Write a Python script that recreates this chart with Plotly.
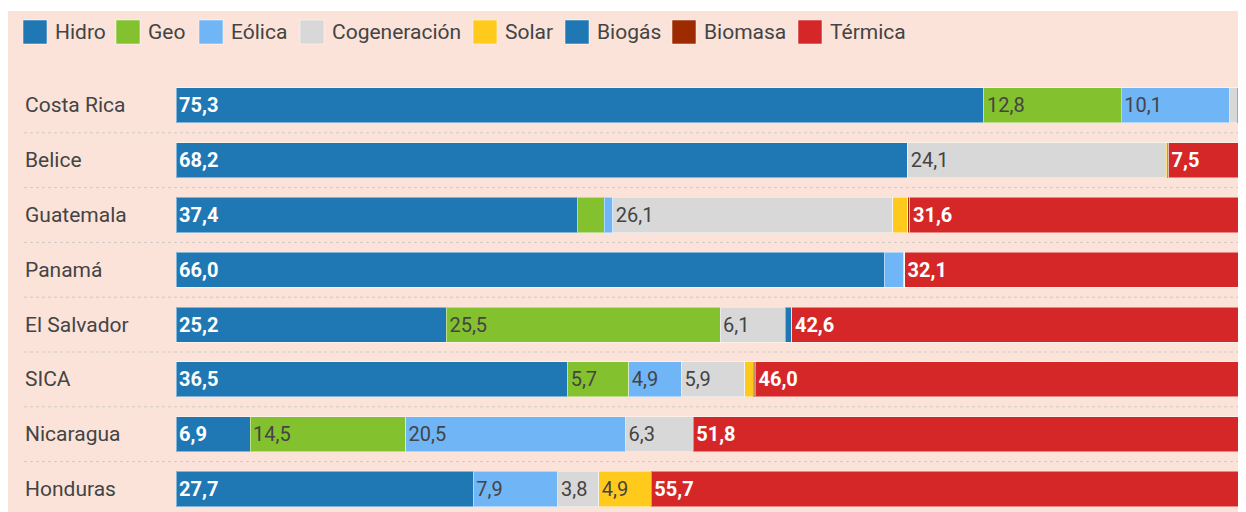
import plotly.graph_objects as go

# data (percent of generation per source)
paises = ["Costa Rica", "Belice", "Guatemala", "Panamá", "El Salvador", "SICA", "Nicaragua", "Honduras"]
hidro = [75.3, 68.2, 37.4, 66.0, 25.2, 36.5, 6.9, 27.7]
geo = [12.8, 0.0, 2.5, 0.0, 25.5, 5.7, 14.5, 0.0]
eolica = [10.1, 0.0, 0.8, 1.8, 0.0, 4.9, 20.5, 7.9]
cogeneracion = [0.7, 24.1, 26.1, 0.0, 6.1, 5.9, 6.3, 3.8]
solar = [0.0, 0.1, 1.4, 0.1, 0.0, 0.8, 0.0, 4.9]
biogas = [0.0, 0.0, 0.0, 0.0, 0.6, 0.1, 0.0, 0.0]
biomasa = [0.0, 0.1, 0.2, 0.0, 0.0, 0.1, 0.0, 0.0]
termica = [1.1, 7.5, 31.6, 32.1, 42.6, 46.0, 51.8, 55.7]

series = [
    ("Hidro", hidro, "#1f77b4", True),
    ("Geo", geo, "#84c12e", False),
    ("Eólica", eolica, "#70b5f6", False),
    ("Cogeneración", cogeneracion, "#d8d8d8", False),
    ("Solar", solar, "#ffca1b", False),
    ("Biogás", biogas, "#1f77b4", True),
    ("Biomasa", biomasa, "#9e2a00", True),
    ("Térmica", termica, "#d62728", True),
]

# page has an 8px body margin, so the figure fills the rest of the window
W, H = 1238, 504
ML, MT = 168, 70
PW, PH = W - ML, H - MT
PX_PER_UNIT = 10.73
ROW = 54.8
FONT = "Roboto, Arial, sans-serif"
BG = "#fbe3d9"


def px_x(p):
    return (p - ML) / PW


def px_y(p):
    return 1 + (MT - p) / PH


fig = go.Figure()

for name, vals, color, white in series:
    labels = [f"{v:.1f}".replace(".", ",") if v >= 3 else "" for v in vals]
    fig.add_trace(
        go.Bar(
            y=paises,
            x=vals,
            name=name,
            orientation="h",
            width=0.64,
            marker=dict(color=color, line=dict(color="rgba(255,255,255,0.45)", width=1)),
            text=labels,
            textposition="inside",
            insidetextanchor="start",
            textangle=0,
            textfont=dict(
                family=FONT,
                size=20,
                color="white" if white else "#444444",
                weight="bold" if white else "normal",
            ),
            hoverinfo="skip",
            showlegend=False,
        )
    )

shapes = [
    dict(type="rect", xref="paper", yref="paper", x0=px_x(0), x1=px_x(W + 5),
         y0=px_y(H + 5), y1=px_y(3), fillcolor=BG, line=dict(width=0), layer="below")
]
for i in range(len(paises)):
    shapes.append(
        dict(type="line", xref="paper", yref="y", x0=px_x(16), x1=1.01,
             y0=i + 0.5, y1=i + 0.5, line=dict(color="#d2c9c5", width=1, dash="dot"),
             layer="below")
    )

annotations = []
for p in paises:
    annotations.append(
        dict(x=px_x(15), y=p, xref="paper", yref="y", text=p, showarrow=False,
             xanchor="left", yanchor="middle", font=dict(family=FONT, size=21, color="#444444"))
    )

# legend drawn by hand, square swatches like the original
legend_x = [15, 108, 191, 292, 465, 557, 664, 790]
for (name, vals, color, white), lx in zip(series, legend_x):
    shapes.append(
        dict(type="rect", xref="paper", yref="paper", x0=px_x(lx), x1=px_x(lx + 24),
             y0=px_y(36), y1=px_y(12), fillcolor=color,
             line=dict(color="rgba(255,255,255,0.5)", width=1))
    )
    annotations.append(
        dict(x=px_x(lx + 30), y=px_y(24), xref="paper", yref="paper", text=name,
             showarrow=False, xanchor="left", yanchor="middle",
             font=dict(family=FONT, size=21, color="#444444"))
    )

fig.update_layout(
    width=W,
    height=H,
    barmode="stack",
    paper_bgcolor="white",
    plot_bgcolor="rgba(0,0,0,0)",
    margin=dict(l=ML, r=0, t=MT, b=0),
    xaxis=dict(range=[0, PW / PX_PER_UNIT], visible=False, fixedrange=True),
    yaxis=dict(range=[PH / ROW - 0.5, -0.5], showticklabels=False, showgrid=False,
               zeroline=False, fixedrange=True),
    uniformtext=dict(minsize=20, mode="show"),
    shapes=shapes,
    annotations=annotations,
    showlegend=False,
)

fig.write_html("out.html")
